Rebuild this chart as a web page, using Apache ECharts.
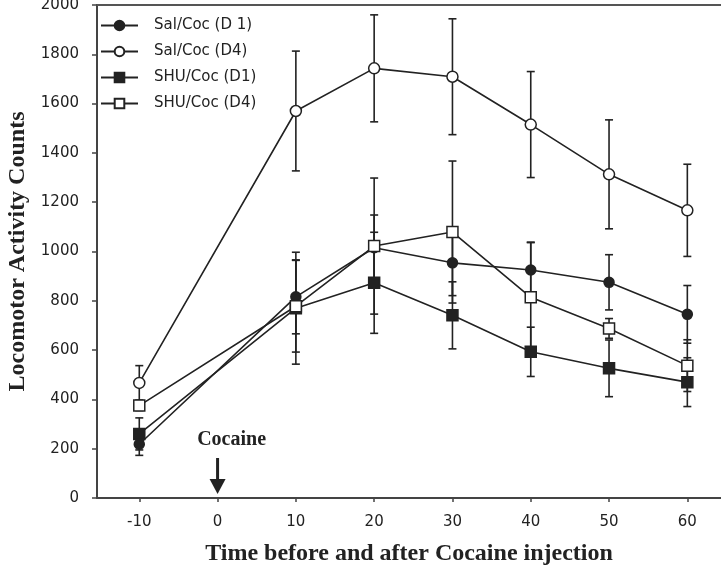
<!DOCTYPE html>
<html>
<head>
<meta charset="utf-8">
<script src="https://cdn.jsdelivr.net/npm/echarts@6/dist/echarts.min.js"></script>
<style>
  html, body { margin: 0; padding: 0; background: #fff; }
  #main { width: 721px; height: 575px; }
</style>
</head>
<body>
<div id="main"></div>
<script>
// time points (min) and tick labels
var times = [-10, 10, 20, 30, 40, 50, 60];
var xTicks = [-10, 0, 10, 20, 30, 40, 50, 60];

// means and SEM
var salD1 = [218, 816, 1015, 954, 925, 875, 745];
var salD1Err = [45, 150, 133, 133, 113, 112, 117];
var salD4 = [467, 1570, 1743, 1709, 1515, 1313, 1167];
var salD4Err = [70, 243, 217, 235, 215, 221, 187];
var shuD1 = [260, 770, 873, 741, 593, 526, 470];
var shuD1Err = [65, 227, 205, 136, 100, 115, 99];
var shuD4 = [375, 778, 1022, 1079, 814, 688, 537];
var shuD4Err = [20, 186, 276, 288, 222, 40, 105];

var ink = '#222';

function pairs(vals) {
  return times.map(function (t, i) { return [t, vals[i]]; });
}
function errData(vals, errs) {
  return times.map(function (t, i) { return [t, vals[i], errs[i]]; });
}

function errSeries(vals, errs) {
  return {
    type: 'custom',
    z: 1,
    silent: true,
    data: errData(vals, errs),
    renderItem: function (params, api) {
      var x = api.value(0), m = api.value(1), e = api.value(2);
      var hi = api.coord([x, m + e]);
      var lo = api.coord([x, m - e]);
      var w = 4;
      var st = { stroke: ink, lineWidth: 1.6 };
      return {
        type: 'group',
        children: [
          { type: 'line', shape: { x1: hi[0], y1: hi[1], x2: lo[0], y2: lo[1] }, style: st },
          { type: 'line', shape: { x1: hi[0] - w, y1: hi[1], x2: hi[0] + w, y2: hi[1] }, style: st },
          { type: 'line', shape: { x1: lo[0] - w, y1: lo[1], x2: lo[0] + w, y2: lo[1] }, style: st }
        ]
      };
    }
  };
}

function lineSeries(name, vals, symbol, filled, size) {
  return {
    name: name,
    type: 'line',
    z: 3,
    data: pairs(vals),
    symbol: symbol,
    symbolSize: size,
    showAllSymbol: true,
    lineStyle: { color: ink, width: 1.6 },
    itemStyle: { color: filled ? ink : '#fff', borderColor: ink, borderWidth: 1.5, opacity: 1 },
    emphasis: { disabled: true }
  };
}

var chart = echarts.init(document.getElementById('main'), null, { renderer: 'canvas' });

var option = {
  animation: false,
  grid: { left: 97, right: 0, top: 5, bottom: 77, outerBoundsMode: 'none' },
  legend: {
    orient: 'vertical',
    left: 100,
    top: 18,
    padding: 0,
    itemWidth: 37,
    itemHeight: 12,
    itemGap: 11,
    textStyle: { fontFamily: 'DejaVu Sans', fontSize: 15, color: ink, padding: [0, 0, 0, 11] },
    data: ['Sal/Coc (D 1)', 'Sal/Coc (D4)', 'SHU/Coc (D1)', 'SHU/Coc (D4)']
  },
  xAxis: [{
    type: 'value',
    min: -15.4,
    max: 64.3,
    axisLine: { onZero: false, lineStyle: { color: '#444', width: 2 } },
    axisTick: { length: 4, customValues: xTicks, lineStyle: { color: '#444', width: 1.5 } },
    axisLabel: { customValues: xTicks, margin: 17, fontFamily: 'DejaVu Sans', fontSize: 15, color: ink },
    splitLine: { show: false },
    name: 'Time before and after Cocaine injection',
    nameLocation: 'middle',
    nameGap: 44,
    nameTextStyle: { fontFamily: 'Liberation Serif', fontWeight: 'bold', fontSize: 24, color: ink }
  }, {
    type: 'value',
    position: 'top',
    min: -15.4,
    max: 64.3,
    axisLine: { show: true, onZero: false, lineStyle: { color: '#555', width: 2 } },
    axisTick: { show: false },
    axisLabel: { show: false },
    splitLine: { show: false }
  }],
  yAxis: {
    type: 'value',
    min: 0,
    max: 2000,
    interval: 200,
    axisLine: { show: true, onZero: false, lineStyle: { color: '#444', width: 2 } },
    axisTick: { show: true, length: 5, lineStyle: { color: '#444', width: 1.5 } },
    axisLabel: {
      margin: 18, padding: [7, 0, 0, 0], fontFamily: 'DejaVu Sans', fontSize: 15, color: ink,
      formatter: function (v) { return String(v); }
    },
    splitLine: { show: false },
    name: 'Locomotor Activity Counts',
    nameLocation: 'middle',
    nameGap: 63,
    nameTextStyle: { fontFamily: 'Liberation Serif', fontWeight: 'bold', fontSize: 24, color: ink }
  },
  series: [
    errSeries(salD1, salD1Err),
    errSeries(salD4, salD4Err),
    errSeries(shuD1, shuD1Err),
    errSeries(shuD4, shuD4Err),
    lineSeries('Sal/Coc (D 1)', salD1, 'circle', true, 10),
    lineSeries('Sal/Coc (D4)', salD4, 'circle', false, 11),
    lineSeries('SHU/Coc (D1)', shuD1, 'rect', true, 11),
    lineSeries('SHU/Coc (D4)', shuD4, 'rect', false, 11)
  ]
};

chart.setOption(option);

// "Cocaine" arrow at time 0
var base = chart.convertToPixel({ xAxisIndex: 0, yAxisIndex: 0 }, [0, 0]);
var ax = base[0], ay = base[1];
chart.setOption({
  graphic: [
    { type: 'line', shape: { x1: ax, y1: ay - 40, x2: ax, y2: ay - 16 }, style: { stroke: ink, lineWidth: 3 } },
    { type: 'polygon', shape: { points: [[ax - 8, ay - 19], [ax + 8, ay - 19], [ax, ay - 4]] }, style: { fill: ink } },
    { type: 'text', x: ax + 14, y: ay - 58, style: { text: 'Cocaine', font: 'bold 20px "Liberation Serif"', fill: ink, align: 'center', verticalAlign: 'middle' } }
  ]
});

window.addEventListener('resize', chart.resize);
</script>
</body>
</html>
